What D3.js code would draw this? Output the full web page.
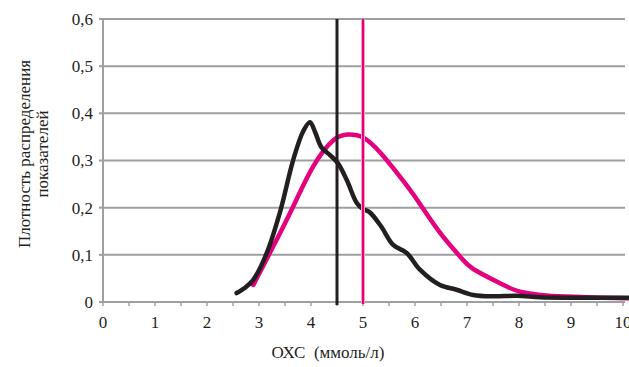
<!DOCTYPE html>
<html>
<head>
<meta charset="utf-8">
<script src="https://cdn.jsdelivr.net/npm/d3@7"></script>
<style>
  body { margin: 0; background: #fff; }
</style>
</head>
<body>
<div id="chart"></div>
<script>
// --- data ---
const xTicks = [0, 1, 2, 3, 4, 5, 6, 7, 8, 9, 10];
const yTicks = [0, 0.1, 0.2, 0.3, 0.4, 0.5, 0.6];

const blackX = [2.57, 2.75, 2.89, 3.15, 3.4, 3.66, 3.85, 3.98, 4.08, 4.2, 4.37, 4.52, 4.69, 4.88, 5.0, 5.13, 5.35, 5.58, 5.84, 6.1, 6.48, 6.8, 7.12, 7.5, 7.96, 8.4, 8.9, 9.5, 10.1];
const blackY = [0.019, 0.032, 0.047, 0.104, 0.189, 0.302, 0.362, 0.381, 0.36, 0.328, 0.311, 0.294, 0.258, 0.21, 0.197, 0.19, 0.16, 0.121, 0.104, 0.068, 0.036, 0.026, 0.015, 0.012, 0.013, 0.01, 0.009, 0.009, 0.009];

const pinkX = [2.89, 3.27, 3.66, 4.04, 4.43, 4.71, 5.0, 5.33, 5.71, 6.04, 6.48, 6.87, 7.12, 7.63, 8.02, 8.53, 9.04, 9.6, 10.1];
const pinkY = [0.036, 0.117, 0.203, 0.287, 0.343, 0.355, 0.349, 0.317, 0.266, 0.217, 0.147, 0.096, 0.07, 0.04, 0.022, 0.014, 0.011, 0.009, 0.008];

const blackMark = 4.5;
const pinkMark = 5.0;

const W = 629, H = 367;
const FONT = '"Liberation Serif", "DejaVu Serif", serif';
const gridColor = '#9d9fa2';

const svg = d3.select('#chart').append('svg').attr('width', W).attr('height', H)
  .attr('font-family', FONT);

const x = d3.scaleLinear().domain([0, 10]).range([103, 623]);
const y = d3.scaleLinear().domain([0, 0.6]).range([302, 19]);

// grid
svg.append('g')
  .selectAll('line').data(yTicks.slice(1)).enter().append('line')
  .attr('x1', x(0)).attr('x2', W - 4)
  .attr('y1', d => y(d)).attr('y2', d => y(d))
  .attr('stroke', gridColor).attr('stroke-width', 2);

// minor ticks on x axis
svg.append('g')
  .selectAll('line').data(d3.range(0, 10.01, 0.5)).enter().append('line')
  .attr('x1', d => x(d)).attr('x2', d => x(d))
  .attr('y1', y(0)).attr('y2', y(0) + 4)
  .attr('stroke', gridColor).attr('stroke-width', 1.5);

// axes lines
svg.append('line').attr('x1', x(0)).attr('x2', x(0)).attr('y1', y(0)).attr('y2', y(0.6))
  .attr('stroke', gridColor).attr('stroke-width', 2);
svg.append('line').attr('x1', x(0) - 4).attr('x2', W - 4).attr('y1', y(0)).attr('y2', y(0))
  .attr('stroke', gridColor).attr('stroke-width', 2);
svg.append('g').selectAll('line').data(yTicks).enter().append('line')
  .attr('x1', x(0) - 4).attr('x2', x(0))
  .attr('y1', d => y(d)).attr('y2', d => y(d))
  .attr('stroke', gridColor).attr('stroke-width', 2);

// tick labels
svg.append('g').selectAll('text').data(yTicks).enter().append('text')
  .attr('x', x(0) - 10).attr('y', d => y(d)).attr('dy', '0.35em')
  .attr('text-anchor', 'end').attr('font-size', 17).attr('fill', '#231f20')
  .text(d => d === 0 ? '0' : d.toFixed(1).replace('.', ','));

svg.append('g').selectAll('text').data(xTicks).enter().append('text')
  .attr('x', d => x(d)).attr('y', y(0) + 26)
  .attr('text-anchor', 'middle').attr('font-size', 17).attr('fill', '#231f20')
  .text(d => d);

// titles
svg.append('text').attr('x', 328).attr('y', 358).attr('text-anchor', 'middle')
  .attr('font-size', 17).attr('fill', '#231f20')
  .style('white-space', 'pre').text('ОХС  (ммоль/л)');
const yt = svg.append('text').attr('transform', 'translate(0,154) rotate(-90)')
  .attr('text-anchor', 'middle').attr('font-size', 17).attr('fill', '#231f20');
yt.append('tspan').attr('x', 0).attr('y', 30).text('Плотность распределения');
yt.append('tspan').attr('x', 0).attr('y', 48).text('показателей');

// curves
const pinkLine = d3.line().x(d => x(d[0])).y(d => y(d[1])).curve(d3.curveNatural);
const blackLine = d3.line().x(d => x(d[0])).y(d => y(d[1])).curve(d3.curveCatmullRom.alpha(0.5));

svg.append('path').datum(d3.zip(pinkX, pinkY))
  .attr('d', pinkLine).attr('fill', 'none')
  .attr('stroke', '#e5007e').attr('stroke-width', 4.5).attr('stroke-linecap', 'round');

svg.append('path').datum(d3.zip(blackX, blackY))
  .attr('d', blackLine).attr('fill', 'none')
  .attr('stroke', '#231f20').attr('stroke-width', 4.5).attr('stroke-linecap', 'round')
  .attr('stroke-linejoin', 'round');

// vertical marks
svg.append('line').attr('x1', x(blackMark)).attr('x2', x(blackMark))
  .attr('y1', y(0) + 3).attr('y2', y(0.6))
  .attr('stroke', '#231f20').attr('stroke-width', 3);
svg.append('line').attr('x1', x(pinkMark)).attr('x2', x(pinkMark))
  .attr('y1', y(0) + 2).attr('y2', y(0.6))
  .attr('stroke', '#f49ac1').attr('stroke-width', 4);
svg.append('line').attr('x1', x(pinkMark)).attr('x2', x(pinkMark))
  .attr('y1', y(0) + 2).attr('y2', y(0.6))
  .attr('stroke', '#e5007e').attr('stroke-width', 2);
</script>
</body>
</html>
